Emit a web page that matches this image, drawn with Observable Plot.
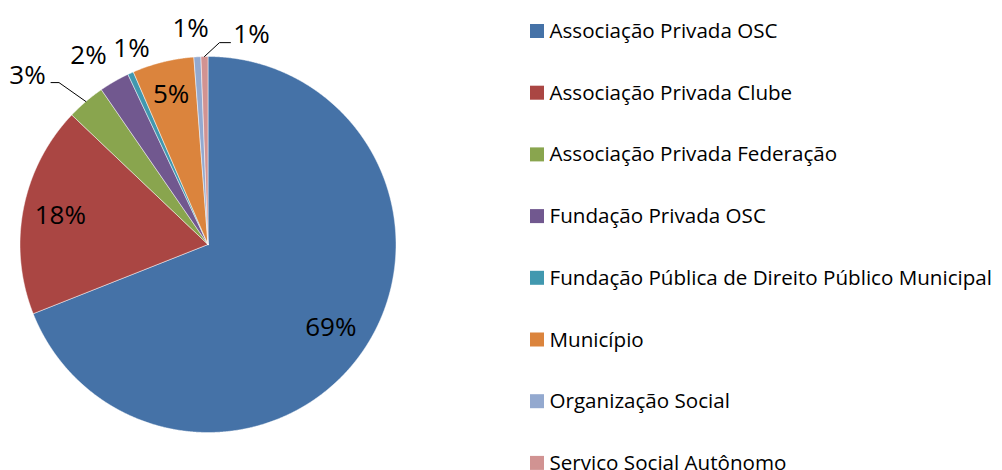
<!DOCTYPE html>
<html><head><meta charset="utf-8">
<script src="https://cdn.jsdelivr.net/npm/d3@7"></script>
<script src="https://cdn.jsdelivr.net/npm/@observablehq/plot@0.6"></script>
<style>body{margin:0;background:#fff;} #chart svg{display:block;}</style>
</head><body><div id="chart"></div>
<script>
const categories = [
  "Associação Privada OSC",
  "Associação Privada Clube",
  "Associação Privada Federação",
  "Fundação Privada OSC",
  "Fundação Pública de Direito Público Municipal",
  "Município",
  "Organização Social",
  "Serviço Social Autônomo"
];
const values = [69.0, 18.1, 3.3, 2.6, 0.5, 5.3, 0.6, 0.6];
const labels = ["69%", "18%", "3%", "2%", "1%", "5%", "1%", "1%"];
const colors = ["#4572A7", "#AA4643", "#89A54E", "#71588F", "#4198AF", "#DB843D", "#93A9CF", "#D19392"];

// layout
const W = 1002, H = 470, cx = 207.5, cy = 244, R = 188;
const FONT = "'Open Sans', sans-serif";
// label placement: [angle in degrees clockwise from top (null = slice middle), radius factor]
const labelPlace = [[null, 0.79], [null, 0.8], [313.1, 1.315], [327.7, 1.19], [338.7, 1.12], [null, 0.82], [355.4, 1.15], [11.7, 1.14]];

const arcs = d3.pie().sort(null).value(d => d)(values);
const poly = [];
arcs.forEach((a, i) => {
  const cat = categories[i];
  poly.push({cat, px: cx, py: cy});
  const n = Math.max(4, Math.ceil((a.endAngle - a.startAngle) / 0.004));
  for (let k = 0; k <= n; k++) {
    const t = a.startAngle + (a.endAngle - a.startAngle) * k / n;
    poly.push({cat, px: cx + R * Math.sin(t), py: cy - R * Math.cos(t)});
  }
  poly.push({cat, px: cx, py: cy});
});

const labelData = arcs.map((a, i) => {
  const mid = (a.startAngle + a.endAngle) / 2;
  const [deg, f] = labelPlace[i];
  const t = deg == null ? mid : deg * Math.PI / 180;
  return {i, text: labels[i], mid, px: cx + f * R * Math.sin(t), py: cy - f * R * Math.cos(t)};
});

// leader lines for slices 2 (3%) and 7 (1%)
const edge = i => ({px: cx + R * Math.sin(labelData[i].mid), py: cy - R * Math.cos(labelData[i].mid)});
const L2 = labelData[2], L7 = labelData[7];
const leaders = [
  {g: 2, px: L2.px + 23.5, py: L2.py + 7},
  {g: 2, px: L2.px + 31.5, py: L2.py + 7},
  {g: 2, ...edge(2)},
  {g: 7, ...edge(7)},
  {g: 7, px: L7.px - 32, py: L7.py + 8},
  {g: 7, px: L7.px - 21, py: L7.py + 8}
];

const rowY0 = 31, rowStep = 61.7;
const legend = categories.map((c, i) => ({cat: c, y: rowY0 + i * rowStep}));

const chart = Plot.plot({
  width: W, height: H,
  marginTop: 0, marginRight: 0, marginBottom: 0, marginLeft: 0,
  x: {domain: [0, W], range: [0, W], axis: null},
  y: {domain: [0, H], range: [0, H], axis: null},
  color: {domain: categories, range: colors},
  style: {fontFamily: FONT, background: "#fff", overflow: "visible"},
  marks: [
    Plot.line(poly, {x: "px", y: "py", z: "cat", fill: "cat", stroke: "#ffffff", strokeWidth: 0.6, strokeOpacity: 0.8, curve: "linear-closed"}),
    Plot.line(leaders, {x: "px", y: "py", z: "g", stroke: "#000", strokeWidth: 1}),
    Plot.text(labelData, {x: "px", y: "py", text: "text", fontSize: 26, fill: "#000", textAnchor: "middle", lineAnchor: "middle"}),
    Plot.rect(legend, {x1: () => 530, x2: () => 544, y1: d => d.y - 7, y2: d => d.y + 7, fill: "cat"}),
    Plot.text(legend, {x: () => 549, y: "y", text: "cat", fontSize: 20.6, fill: "#000", textAnchor: "start", lineAnchor: "middle"})
  ]
});
document.getElementById("chart").appendChild(chart);
</script>
</body></html>
